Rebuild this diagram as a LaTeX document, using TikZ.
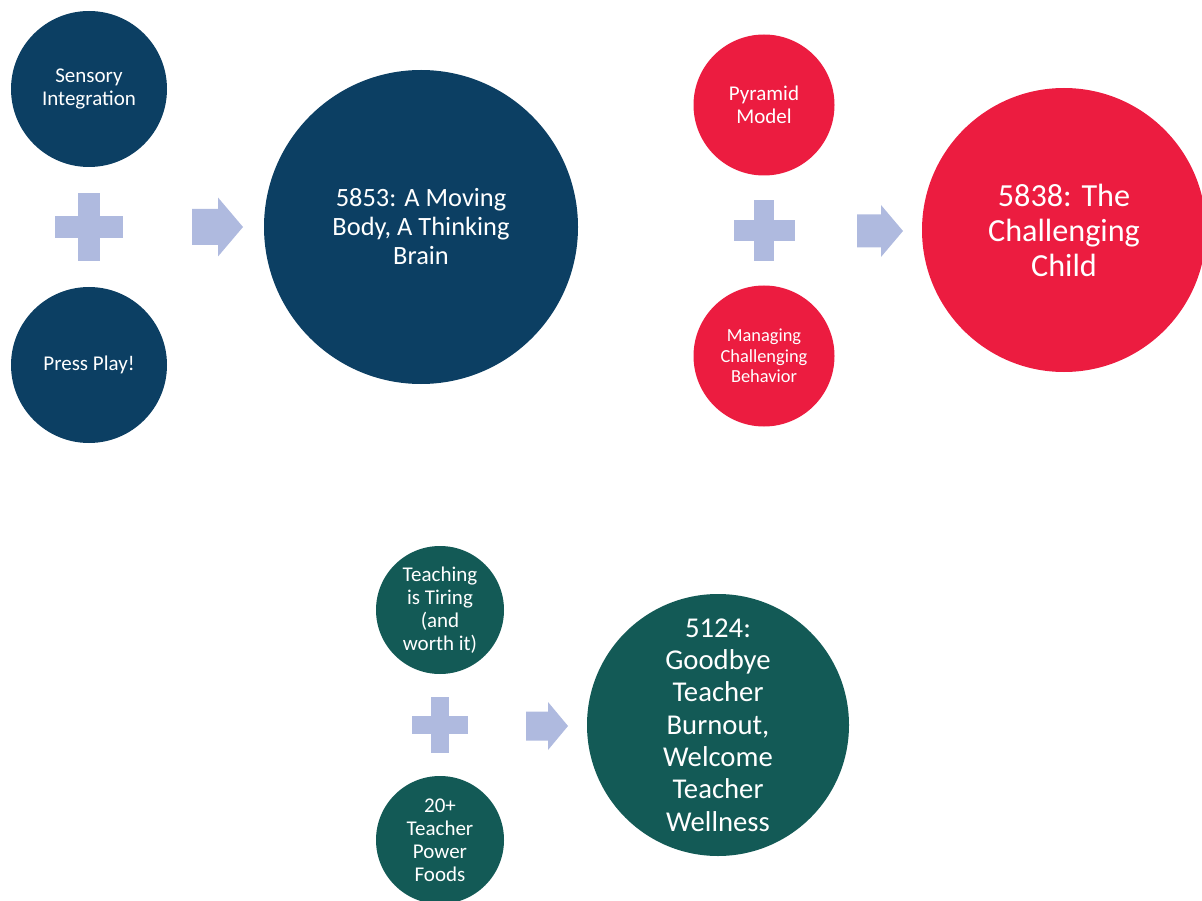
\documentclass[tikz,border=0pt]{standalone}
\usepackage{fontspec}
\setmainfont{Carlito}
\definecolor{navy}{HTML}{0C3F63}
\definecolor{crimson}{HTML}{EC1C40}
\definecolor{tealdark}{HTML}{135A56}
\definecolor{peri}{HTML}{AFBADF}
\newcommand{\drawplus}[4]{%
  \fill[peri] ({#1-#4},{#2-#3}) rectangle ({#1+#4},{#2+#3});
  \fill[peri] ({#1-#3},{#2-#4}) rectangle ({#1+#3},{#2+#4});}
\newcommand{\drawarr}[6]{% x0 xh xt cy shafthalf headhalf
  \fill[peri] (#1,{#4-#5}) -- (#2,{#4-#5}) -- (#2,{#4-#6}) -- (#3,#4) -- (#2,{#4+#6}) -- (#2,{#4+#5}) -- (#1,{#4+#5}) -- cycle;}
\tikzset{
  bubble/.style={circle, inner sep=0pt, text=white, align=center},
  smallfont/.style={font=\fontsize{21}{23}\selectfont},
}
\begin{document}
\begin{tikzpicture}[x=1pt,y=-1pt]
\useasboundingbox (0,0) rectangle (1202,901);
% group 1
\node[bubble, fill=navy, minimum size=156pt, smallfont] (si) at (89,89) {Sensory\\Integration};
\node[bubble, fill=navy, minimum size=156pt, smallfont] (pp) at (89,365) {Press Play!};
\node[bubble, fill=navy, minimum size=314pt, font=\fontsize{26.4}{29}\selectfont] (b1) at (421,227) {5853: A Moving\\Body, A Thinking\\Brain};
\drawplus{89}{227}{34}{11}
\drawarr{192}{218}{243}{227}{18}{29.5}
% group 2
\node[bubble, fill=crimson, minimum size=141pt, smallfont] (pm) at (764,105) {Pyramid\\Model};
\node[bubble, fill=crimson, minimum size=141pt, font=\fontsize{18.4}{20.5}\selectfont] (mc) at (764,356) {Managing\\Challenging\\Behavior};
\node[bubble, fill=crimson, minimum size=284pt, font=\fontsize{32.2}{35}\selectfont] (b2) at (1064,230) {5838: The\\Challenging\\Child};
\drawplus{764}{230.5}{30.5}{10.2}
\drawarr{857}{881}{903}{231}{16.5}{26}
% group 3
\node[bubble, fill=tealdark, minimum size=128pt, smallfont] (tt) at (440,610) {Teaching\\is Tiring\\(and\\worth it)};
\node[bubble, fill=tealdark, minimum size=128pt, smallfont] (tf) at (440,840) {20+\\Teacher\\Power\\Foods};
\node[bubble, fill=tealdark, minimum size=262pt, font=\fontsize{28.7}{32.3}\selectfont] (b3) at (718,725) {5124:\\Goodbye\\Teacher\\Burnout,\\Welcome\\Teacher\\Wellness};
\drawplus{440}{725}{28}{9}
\drawarr{526}{548}{568}{726}{14.5}{24}
\end{tikzpicture}
\end{document}
